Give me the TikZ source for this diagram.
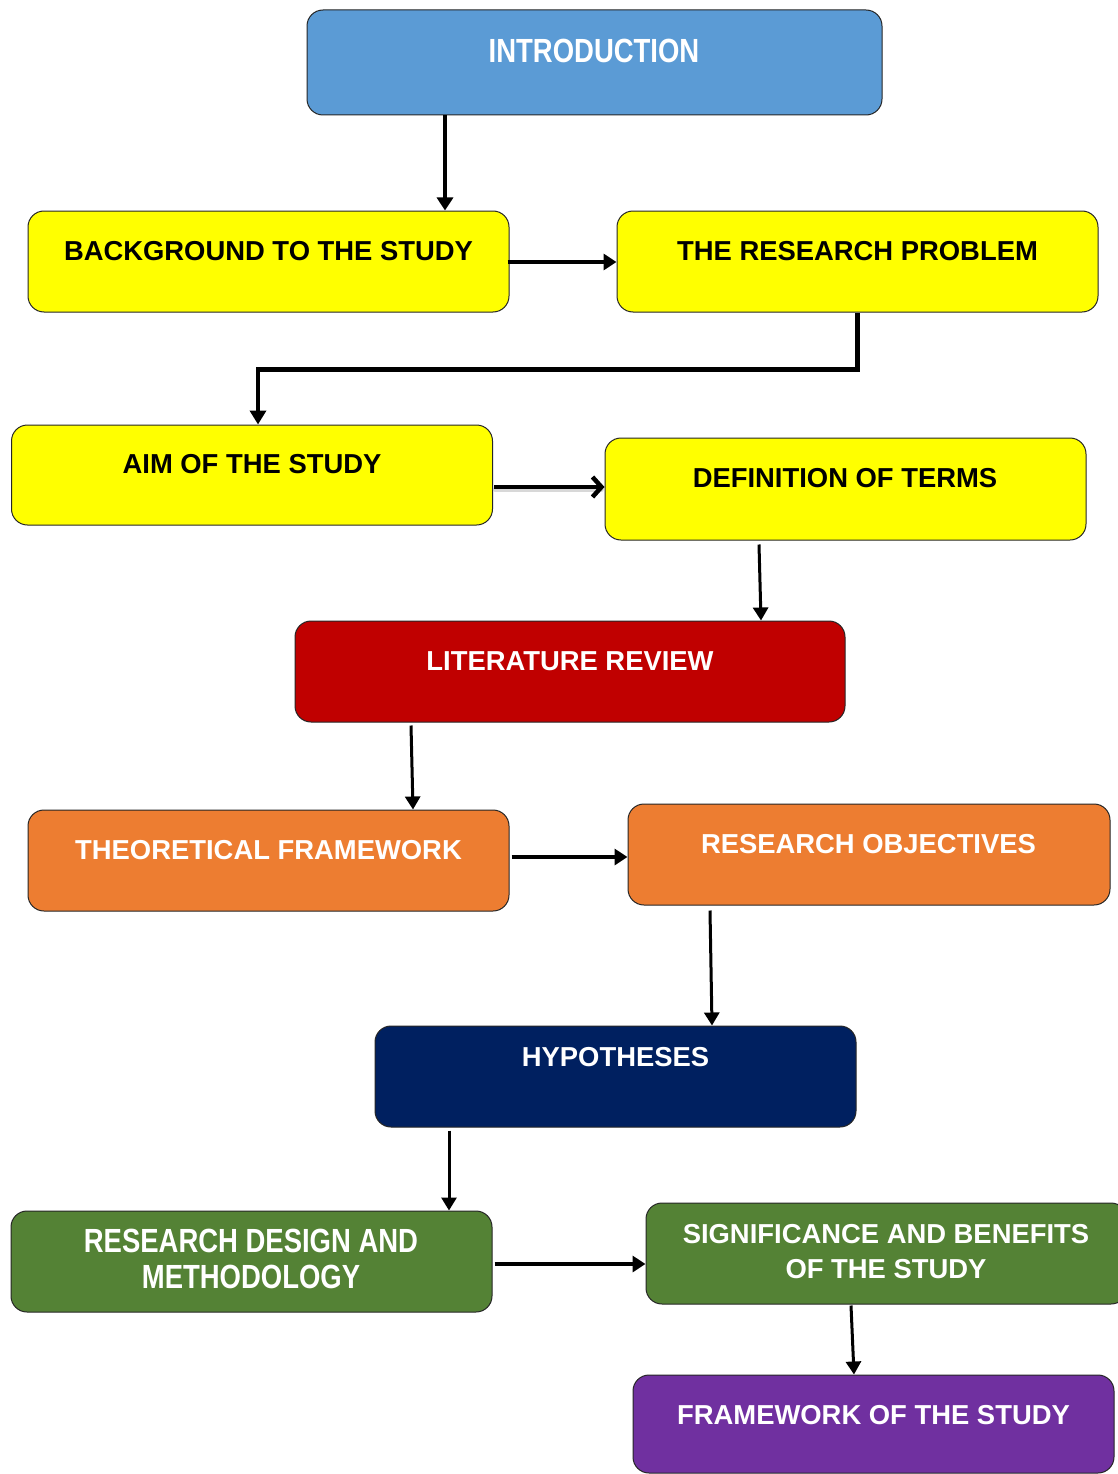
\documentclass[tikz,border=0pt]{standalone}
\usepackage{fontspec}
\setmainfont{Liberation Sans}
\newfontfamily\narrowfont[FakeStretch=0.82]{Liberation Sans}
\usetikzlibrary{arrows.meta}

\definecolor{introblue}{HTML}{5B9BD5}
\definecolor{boxyellow}{HTML}{FFFF00}
\definecolor{litred}{HTML}{C00000}
\definecolor{boxorange}{HTML}{ED7D31}
\definecolor{hypnavy}{HTML}{002060}
\definecolor{boxgreen}{HTML}{548235}
\definecolor{boxpurple}{HTML}{7030A0}

\tikzset{
  stagebox/.style={draw=black!85, line width=1pt, rounded corners=16pt,
    minimum width=481pt, minimum height=101pt, inner sep=0pt},
  stagetext/.style={anchor=base, inner sep=0pt, align=center,
    font=\fontsize{27.4}{35}\selectfont\bfseries},
  narrowtext/.style={anchor=base, inner sep=0pt, align=center,
    font=\fontsize{33.5}{36}\narrowfont\bfseries},
  flow/.style={draw=black, line width=3pt,
    -{Triangle[length=13pt,width=15pt]}},
  boldflow/.style={draw=black, line width=4.2pt,
    -{Triangle[length=13pt,width=16pt]}},
  openflow/.style={draw=black, line width=4.5pt,
    -{Straight Barb[length=9pt,width=20pt,line width=4.5pt]}}
}

\begin{document}
\begin{tikzpicture}[x=1pt,y=1pt]
\useasboundingbox[fill=white] (0,0) rectangle (1118,-1474);

% stage boxes
\node[stagebox, fill=introblue, minimum width=575pt, minimum height=105pt] (intro) at (594.5,-62.5) {};
\node[stagebox, fill=boxyellow] (bg) at (268.5,-261.5) {};
\node[stagebox, fill=boxyellow] (prob) at (857.5,-261.5) {};
\node[stagebox, fill=boxyellow, minimum height=100pt] (aim) at (252,-475) {};
\node[stagebox, fill=boxyellow, minimum height=102pt] (def) at (845.5,-489) {};
\node[stagebox, fill=litred, minimum width=550pt] (lit) at (570,-671.5) {};
\node[stagebox, fill=boxorange] (theo) at (268.5,-860.5) {};
\node[stagebox, fill=boxorange, minimum width=482pt] (obj) at (869,-854.5) {};
\node[stagebox, fill=hypnavy] (hyp) at (615.5,-1076.5) {};
\node[stagebox, fill=boxgreen] (rdm) at (251.5,-1261.5) {};
\node[stagebox, fill=boxgreen] (sig) at (886.5,-1253.5) {};
\node[stagebox, fill=boxpurple, minimum height=98pt] (fw) at (873.5,-1424) {};

% stage titles (multi-line titles are anchored on their last baseline)
\node[narrowtext, text=white] (introT) at (594,-63) {INTRODUCTION};
\node[stagetext] (bgT) at (268.5,-260) {BACKGROUND TO THE STUDY};
\node[stagetext] (probT) at (857.5,-260) {THE RESEARCH PROBLEM};
\node[stagetext] (aimT) at (252,-473) {AIM OF THE STUDY};
\node[stagetext] (defT) at (845,-487) {DEFINITION OF TERMS};
\node[stagetext, text=white] (litT) at (570,-670) {LITERATURE REVIEW};
\node[stagetext, text=white] (theoT) at (268.5,-859) {THEORETICAL FRAMEWORK};
\node[stagetext, text=white] (objT) at (868.5,-853) {RESEARCH OBJECTIVES};
\node[stagetext, text=white] (hypT) at (615.5,-1066) {HYPOTHESES};
\node[narrowtext, text=white] (rdmT) at (251,-1288) {RESEARCH DESIGN AND\\METHODOLOGY};
\node[stagetext, text=white] (sigT) at (886,-1278) {SIGNIFICANCE AND BENEFITS\\OF THE STUDY};
\node[stagetext, text=white] (fwT) at (873.5,-1424) {FRAMEWORK OF THE STUDY};

% connectors
\draw[boldflow] ([xshift=-149.5pt]intro.south) -- ([xshift=176.5pt]bg.north);
\draw[boldflow] ([xshift=-2pt,yshift=-0.5pt]bg.east) -- ([yshift=-0.5pt]prob.west);
\draw[line width=4.5pt, draw=black, -{Triangle[length=14pt,width=16pt]}]
  (prob.south) -- ++(0,-57pt) -| ([xshift=6pt]aim.north);
\draw[line width=4.5pt, draw=black!25, line cap=round, opacity=0.6]
  ([xshift=2pt,yshift=-14.5pt]aim.east) -- ([xshift=-3pt,yshift=-0.5pt]def.west);
\draw[openflow] ([xshift=1pt,yshift=-12pt]aim.east) -- ([yshift=2pt]def.west);
\draw[flow] ([xshift=-86.5pt,yshift=-4pt]def.south) -- ([xshift=191pt]lit.north);
\draw[flow] ([xshift=-159pt,yshift=-3pt]lit.south) -- ([xshift=144.5pt]theo.north);
\draw[boldflow] ([xshift=2pt,yshift=3.5pt]theo.east) -- ([yshift=-2.5pt]obj.west);
\draw[flow] ([xshift=-159pt,yshift=-5pt]obj.south) -- ([xshift=96.5pt]hyp.north);
\draw[flow] ([xshift=-166.5pt,yshift=-3pt]hyp.south) -- ([xshift=197.5pt]rdm.north);
\draw[boldflow] ([xshift=2pt,yshift=-2.5pt]rdm.east) -- ([yshift=-10.5pt]sig.west);
\draw[flow] ([xshift=-35.5pt,yshift=-1pt]sig.south) -- ([xshift=-19.5pt]fw.north);
\end{tikzpicture}
\end{document}
